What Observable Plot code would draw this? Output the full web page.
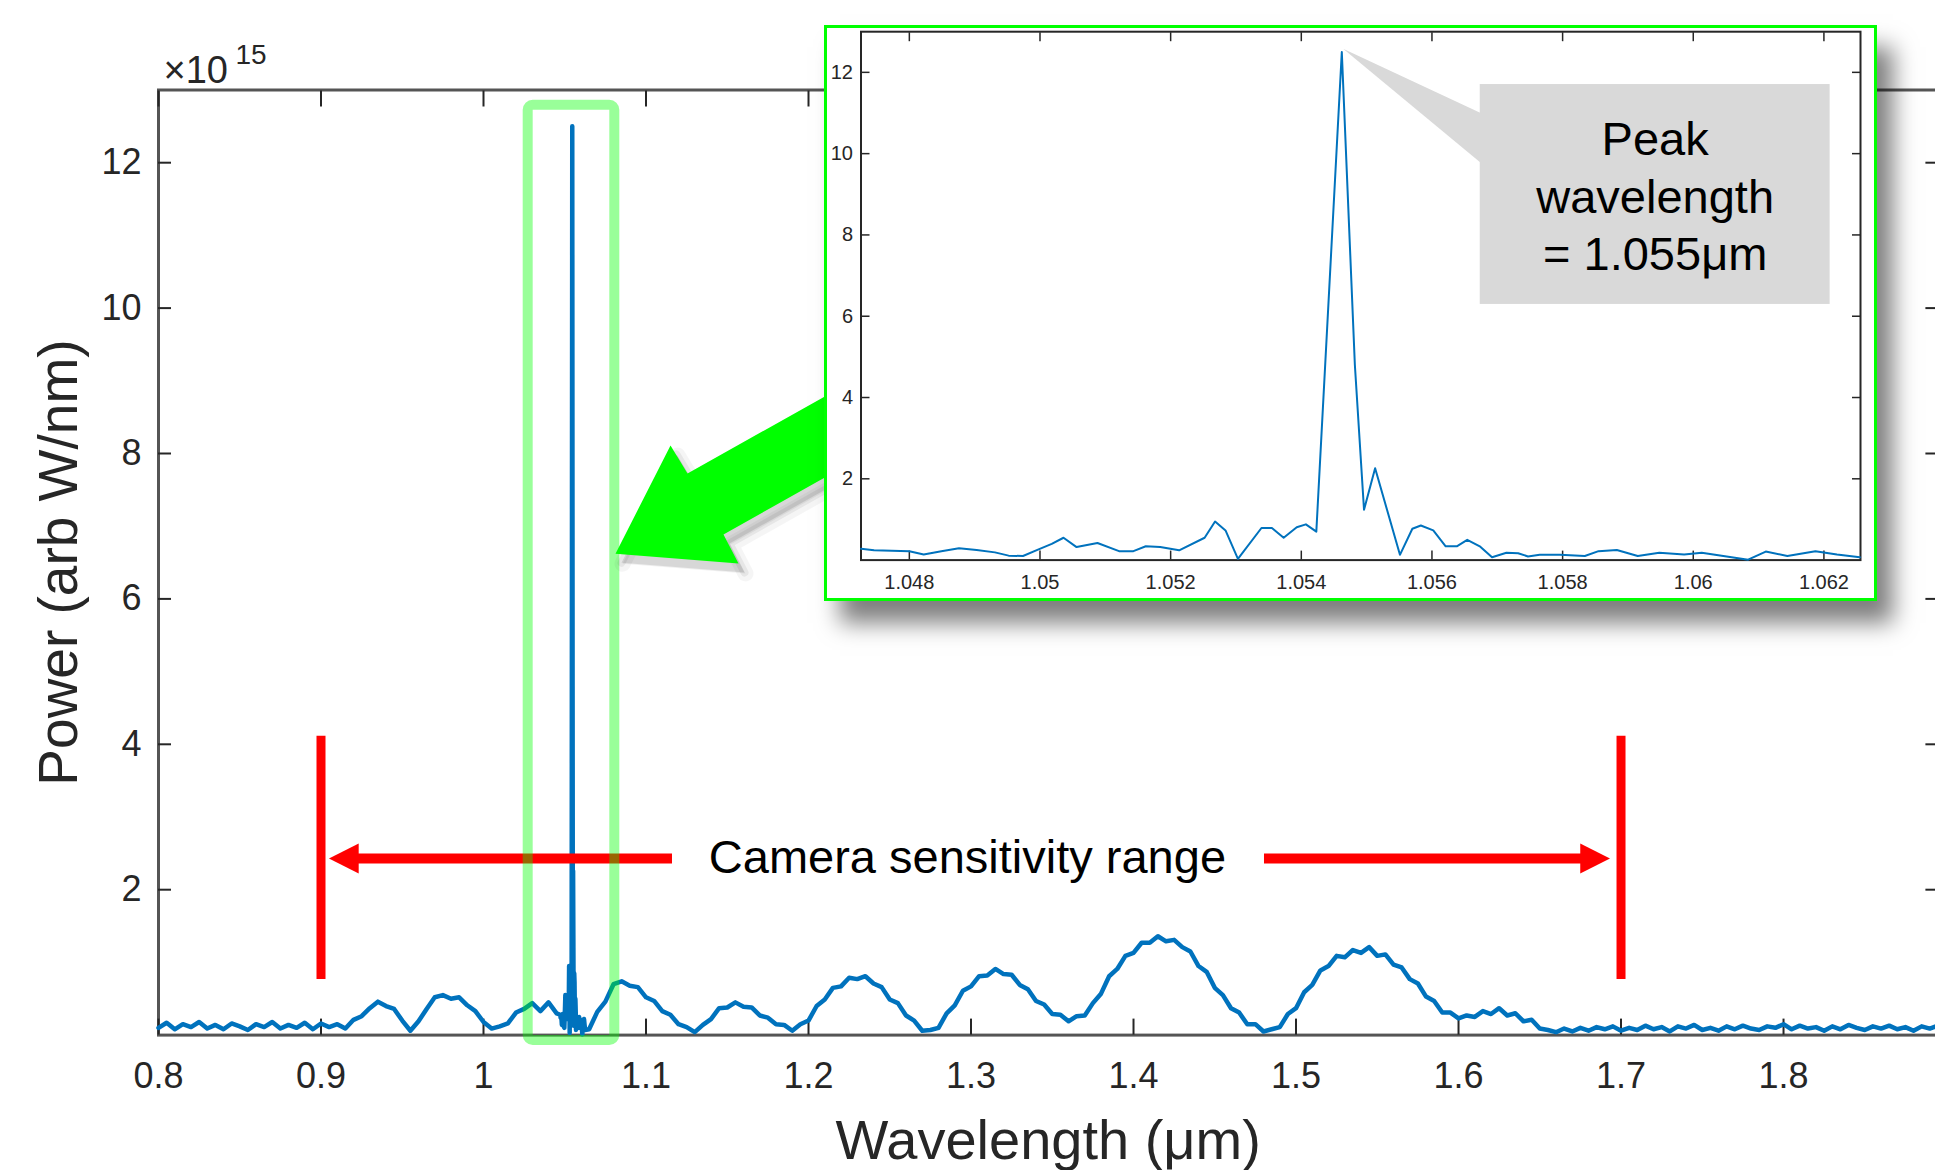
<!DOCTYPE html>
<html>
<head>
<meta charset="utf-8">
<script src="https://cdn.jsdelivr.net/npm/d3@7"></script>
<script src="https://cdn.jsdelivr.net/npm/@observablehq/plot@0.6"></script>
<style>
  html, body { margin: 0; padding: 0; background: #fff; overflow: hidden; width: 1935px; height: 1170px; }
  #main { position: absolute; left: 0; top: 0; }
  #inset { position: absolute; left: 824px; top: 25px; width: 1053px; height: 576px; box-sizing: border-box;
           border: 3px solid #00ff00; background: #fff; box-shadow: 16px 22px 22px rgba(0,0,0,0.5); }
  #inset svg { position: absolute; left: 0; top: 0; }
</style>
</head>
<body>
<div id="main"></div>
<div id="inset"></div>
<script>
// ---------------- data ----------------
const sampleStep = 0.005;
// broadband spectrum, 0.800 .. 1.045 µm (×1e15 arb W/nm)
const bandStartA = 0.800;
const bandPowerA = [0.10,0.17,0.08,0.15,0.11, 0.18,0.09,0.14,0.08,0.16, 0.12,0.07,0.15,0.11,0.18, 0.09,0.14,0.10,0.17,0.08,
  0.16,0.11,0.15,0.09,0.21, 0.26,0.37,0.46,0.40,0.36, 0.20,0.06,0.19,0.36,0.52, 0.55,0.50,0.52,0.41,0.33,
  0.18,0.09,0.12,0.16,0.31, 0.36,0.44,0.33,0.45,0.30];
// fine detail around the laser line (also shown in the inset)
const peakWavelength = [1.04726,1.04746,1.04773,1.04800,1.04822,1.04849,1.04876,1.04903,1.04931,1.04952,1.04974,1.04996,
  1.05018,1.05036,1.05056,1.05088,1.05121,1.05143,1.05162,1.05184,1.05213,1.05252,1.05268,1.05284,1.05303,1.05339,1.05355,
  1.05373,1.05393,1.05407,1.05423,1.05462,1.05482,1.05496,1.05513,1.05551,1.05570,1.05583,1.05602,1.05621,1.05638,1.05654,
  1.05674,1.05692,1.05714,1.05732,1.05747,1.05765,1.05796,1.05834,1.05855,1.05883,1.05915,1.05948,1.05986,1.06013,1.06046,
  1.06084,1.06111,1.06144,1.06187,1.06220,1.06255];
const peakPower = [0.28,0.24,0.23,0.22,0.14,0.22,0.29,0.25,0.19,0.11,0.10,0.25,0.40,0.55,0.32,0.42,0.22,0.22,0.34,0.32,
  0.24,0.55,0.95,0.73,0.03,0.79,0.79,0.55,0.81,0.88,0.70,12.5,4.8,1.24,2.26,0.13,0.77,0.85,0.73,0.34,0.34,0.50,0.33,0.07,
  0.18,0.17,0.09,0.13,0.13,0.10,0.22,0.25,0.10,0.18,0.14,0.18,0.10,0.01,0.21,0.10,0.22,0.14,0.07];
// broadband spectrum, 1.065 .. 1.900 µm
const bandStartB = 1.065;
const bandPowerB = [
  0.08,0.32,0.46,0.70,0.74,0.68,0.66,0.52,0.47,0.33,
  0.28,0.15,0.11,0.04,0.14,0.22,0.37,0.38,0.45,0.39,
  0.38,0.27,0.24,0.15,0.14,0.06,0.15,0.20,0.40,0.49,
  0.65,0.67,0.79,0.77,0.81,0.71,0.66,0.49,0.44,0.27,
  0.20,0.06,0.07,0.10,0.30,0.41,0.61,0.67,0.81,0.82,
  0.91,0.84,0.83,0.69,0.63,0.47,0.42,0.29,0.28,0.19,
  0.26,0.27,0.44,0.57,0.81,0.91,1.09,1.13,1.27,1.27,
  1.36,1.29,1.31,1.21,1.15,0.95,0.87,0.65,0.55,0.37,
  0.31,0.15,0.15,0.05,0.08,0.11,0.29,0.37,0.59,0.69,
  0.89,0.95,1.09,1.07,1.17,1.13,1.21,1.09,1.11,0.97,
  0.93,0.77,0.71,0.53,0.47,0.31,0.31,0.23,0.27,0.25,
  0.33,0.29,0.37,0.27,0.30,0.19,0.21,0.09,0.07,0.04,
  0.09,0.05,0.10,0.06,0.11,
  0.08,0.12,0.06,0.10,0.07,0.13,0.08,0.11,0.05,0.12,0.09,0.14,0.07,0.10,0.06,0.12,0.08,0.13,0.09,0.07,
  0.12,0.10,0.15,0.08,0.13,0.09,0.11,0.06,0.12,0.08,0.14,0.10,0.07,0.12,0.09,0.13,0.08,0.11,0.06,0.12,0.09,0.13,0.08];

// ticks
const mainXTicks = [0.8,0.9,1,1.1,1.2,1.3,1.4,1.5,1.6,1.7,1.8];
const mainXTickLabels = ["0.8","0.9","1","1.1","1.2","1.3","1.4","1.5","1.6","1.7","1.8"];
const mainYTicks = [2,4,6,8,10,12];
const mainYTickLabels = ["2","4","6","8","10","12"];
const insetXTicks = [1.048,1.05,1.052,1.054,1.056,1.058,1.06,1.062];
const insetXTickLabels = ["1.048","1.05","1.052","1.054","1.056","1.058","1.06","1.062"];
const insetYTicks = [2,4,6,8,10,12];
const insetYTickLabels = ["2","4","6","8","10","12"];

// annotations (data units)
const rangeLimits = [0.9, 1.7];
const rangeMarkerSpan = [0.765, 4.11];
const rangeArrowLevel = [2.43];
const leftShaft = [0.9225, 1.1163];
const rightShaft = [1.4806, 1.6757];
const leftHead = [{w:0.9049,p:2.43},{w:0.9232,p:2.636},{w:0.9232,p:2.224}];
const rightHead = [{w:1.6932,p:2.43},{w:1.6749,p:2.636},{w:1.6749,p:2.224}];
const rangeText = ["Camera sensitivity range"];
const rangeTextAt = [1.2978];
const focusBox = [{x1:1.0275, x2:1.0808, y1:-0.074, y2:12.79}];
const pointerArrow = [{w:1.08123,p:6.621},{w:1.11508,p:8.110},{w:1.12554,p:7.725},{w:1.21662,p:8.867},
  {w:1.21662,p:7.753},{w:1.14769,p:6.886},{w:1.15692,p:6.487}];
const calloutBox = [{x1:1.056739, x2:1.062095, y1:6.29, y2:11.70}];
const calloutPointer = [{w:1.05464,p:12.58},{w:1.0570,p:10.81},{w:1.0570,p:9.44}];
const calloutText = ["Peak\nwavelength\n= 1.055μm"];
const calloutAt = [{w:1.059417, p:9.0}];

// ---------------- build ----------------
const spectrum = [
  ...bandPowerA.map((p, i) => ({w: +(bandStartA + i * sampleStep).toFixed(4), p})),
  ...peakWavelength.map((w, i) => ({w, p: peakPower[i]})),
  ...bandPowerB.map((p, i) => ({w: +(bandStartB + i * sampleStep).toFixed(4), p}))
];
const peakSeries = peakWavelength.map((w, i) => ({w, p: peakPower[i]}));
const fmt = (ticks, labels) => d => { const k = ticks.indexOf(d); return k >= 0 ? labels[k] : String(d); };

const FONT = "'Liberation Sans', Arial, Helvetica, sans-serif";
const AX = "#262626";
const BLUE = "#0072BD";

const mainPlot = Plot.plot({
  width: 1950, height: 1170,
  marginLeft: 158, marginRight: 12.6, marginTop: 89.5, marginBottom: 135.4,
  x: {domain: [0.8, 1.895]},
  y: {domain: [0, 13]},
  style: {fontFamily: FONT, background: "white", maxWidth: "none", overflow: "visible"},
  marks: [
    Plot.frame({stroke: "#555", strokeWidth: 3}),
    Plot.axisX(mainXTicks, {anchor: "bottom", tickSize: -16, tickPadding: 43, strokeWidth: 2, stroke: AX, fill: AX,
      fontSize: 36, tickFormat: fmt(mainXTicks, mainXTickLabels), label: null}),
    Plot.axisX(mainXTicks, {anchor: "top", tickSize: -16, strokeWidth: 2, stroke: AX, fill: "none", label: null}),
    Plot.axisY(mainYTicks, {anchor: "left", tickSize: -13, tickPadding: 30, strokeWidth: 2, stroke: AX, fill: AX,
      fontSize: 36, tickFormat: fmt(mainYTicks, mainYTickLabels), label: null}),
    Plot.axisY(mainYTicks, {anchor: "right", tickSize: -13, strokeWidth: 2, stroke: AX, fill: "none", label: null}),
    Plot.line(spectrum, {x: "w", y: "p", stroke: BLUE, strokeWidth: 4.5}),
    // camera sensitivity range
    Plot.ruleX(rangeLimits, {x: d => d, y1: rangeMarkerSpan[0], y2: rangeMarkerSpan[1], stroke: "#ff0000", strokeWidth: 9}),
    Plot.ruleY(rangeArrowLevel, {y: d => d, x1: leftShaft[0], x2: leftShaft[1], stroke: "#ff0000", strokeWidth: 10}),
    Plot.ruleY(rangeArrowLevel, {y: d => d, x1: rightShaft[0], x2: rightShaft[1], stroke: "#ff0000", strokeWidth: 10}),
    Plot.line(leftHead, {x: "w", y: "p", fill: "#ff0000", stroke: "none"}),
    Plot.line(rightHead, {x: "w", y: "p", fill: "#ff0000", stroke: "none"}),
    Plot.text(rangeText, {x: rangeTextAt, y: rangeArrowLevel, text: d => d, fontSize: 47, fill: "#000", fontFamily: FONT}),
    // focus box around the peak
    Plot.rect(focusBox, {x1: "x1", x2: "x2", y1: "y1", y2: "y2", fill: "none", stroke: "#00ff00", strokeOpacity: 0.4,
      strokeWidth: 10, rx: 5}),
    // green pointer arrow: soft shadow layers, then the arrow itself
    Plot.line(pointerArrow, {x: "w", y: "p", dx: 7, dy: 10, fill: "#000", fillOpacity: 0.06, stroke: "#000", strokeOpacity: 0.04, strokeWidth: 16}),
    Plot.line(pointerArrow, {x: "w", y: "p", dx: 6, dy: 9, fill: "#000", fillOpacity: 0.10, stroke: "#000", strokeOpacity: 0.06, strokeWidth: 8}),
    Plot.line(pointerArrow, {x: "w", y: "p", fill: "#00ff00", stroke: "none"}),
    // axis labels
    Plot.text(["Wavelength (μm)"], {frameAnchor: "bottom", dy: 124, text: d => d, fontSize: 56, fill: AX}),
    Plot.text(["Power (arb W/nm)"], {frameAnchor: "left", dx: -99, rotate: -90, textAnchor: "middle", text: d => d, fontSize: 55, fill: AX}),
    Plot.text(["×10"], {frameAnchor: "top-left", dx: 5, dy: -7, textAnchor: "start", lineAnchor: "bottom", text: d => d, fontSize: 38, fill: AX}),
    Plot.text(["15"], {frameAnchor: "top-left", dx: 77, dy: -26, textAnchor: "start", lineAnchor: "bottom", text: d => d, fontSize: 28, fill: AX})
  ]
});
document.getElementById("main").appendChild(mainPlot);

const insetPlot = Plot.plot({
  width: 1047, height: 570,
  marginLeft: 33.5, marginRight: 14, marginTop: 3.2, marginBottom: 38.4,
  x: {domain: [1.04726, 1.06256]},
  y: {domain: [0, 13]},
  style: {fontFamily: FONT, background: "white", maxWidth: "none"},
  marks: [
    Plot.line(calloutPointer, {x: "w", y: "p", fill: "#d9d9d9", stroke: "none"}),
    Plot.rect(calloutBox, {x1: "x1", x2: "x2", y1: "y1", y2: "y2", fill: "#d9d9d9"}),
    Plot.text(calloutText, {x: calloutAt.map(d => d.w), y: calloutAt.map(d => d.p), text: d => d, fontSize: 47,
      lineHeight: 1.22, fill: "#000", fontFamily: FONT}),
    Plot.frame({stroke: AX, strokeWidth: 2}),
    Plot.axisX(insetXTicks, {anchor: "bottom", tickSize: -9, tickPadding: 24, strokeWidth: 1.5, stroke: AX, fill: AX,
      fontSize: 20, tickFormat: fmt(insetXTicks, insetXTickLabels), label: null}),
    Plot.axisX(insetXTicks, {anchor: "top", tickSize: -9, strokeWidth: 1.5, stroke: AX, fill: "none", label: null}),
    Plot.axisY(insetYTicks, {anchor: "left", tickSize: -9, tickPadding: 17, strokeWidth: 1.5, stroke: AX, fill: AX,
      fontSize: 20, tickFormat: fmt(insetYTicks, insetYTickLabels), label: null}),
    Plot.axisY(insetYTicks, {anchor: "right", tickSize: -9, strokeWidth: 1.5, stroke: AX, fill: "none", label: null}),
    Plot.line(peakSeries, {x: "w", y: "p", stroke: BLUE, strokeWidth: 2})
  ]
});
document.getElementById("inset").appendChild(insetPlot);
</script>
</body>
</html>
